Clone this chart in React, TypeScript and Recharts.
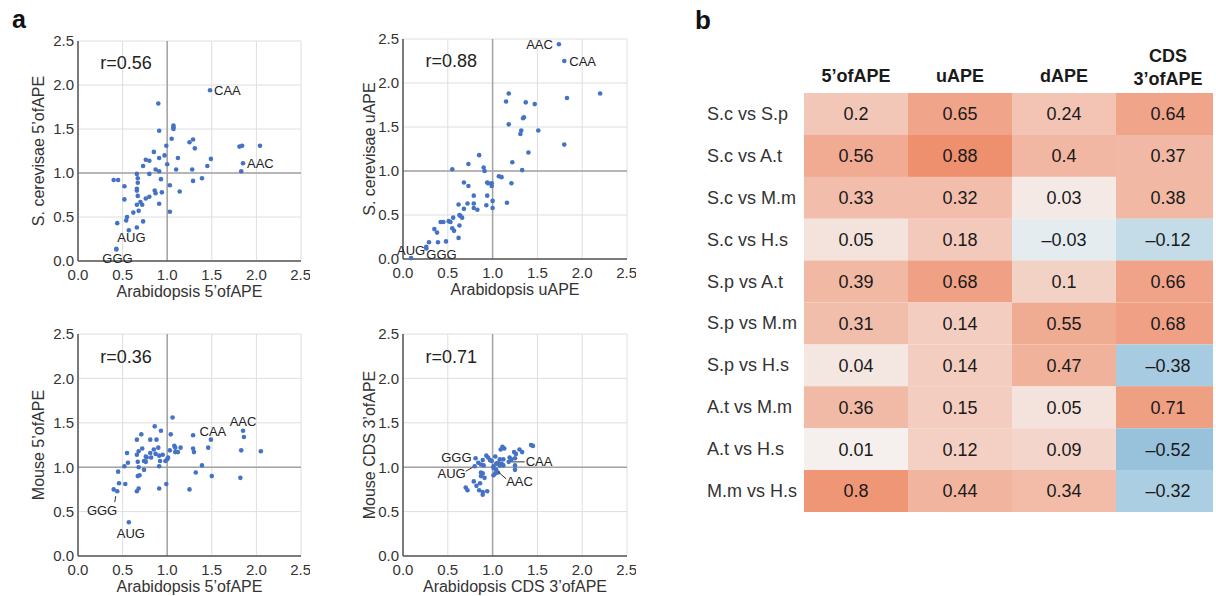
import {
  ScatterChart,
  Scatter,
  XAxis,
  YAxis,
  CartesianGrid,
  ReferenceLine,
  ReferenceDot,
  Label,
  BarChart,
  Bar,
  Cell,
  LabelList,
} from "recharts"

const FONT = "'Liberation Sans', Arial, Helvetica, sans-serif"
const DOT = "#4472c4"
const TEXT = "#333"
const TICKS = [0, 0.5, 1, 1.5, 2, 2.5]

type Pt = [number, number]
type Mark = { codon: string; x: number; y: number }
type Tag = { dx: number; dy: number; anchor: "start" | "middle" | "end"; line?: number[] }

// panel a — points are [Arabidopsis, other organism]
const scVsAt5ofAPE: Pt[] = [
  [0.9, 1.79], [1.07, 1.54], [1.07, 1.52], [1.07, 1.5], [0.91, 1.48], [1.05, 1.39], [1.29, 1.38], [1.25, 1.35],
  [1.31, 1.28], [0.99, 1.31], [0.85, 1.24], [0.97, 1.2], [0.91, 1.17], [1.12, 1.17], [1.49, 1.16], [0.76, 1.15],
  [0.8, 1.14], [1.0, 1.1], [0.73, 1.08], [1.45, 1.08], [0.87, 1.04], [0.91, 1.02], [1.1, 1.04], [1.28, 1.04],
  [0.66, 0.99], [0.8, 0.99], [0.67, 0.94], [0.67, 0.89], [0.93, 0.93], [0.4, 0.92], [0.45, 0.92], [1.39, 0.94],
  [1.29, 0.91], [0.52, 0.85], [1.03, 0.86], [0.66, 0.82], [0.66, 0.8], [0.86, 0.8], [0.87, 0.77], [0.94, 0.78],
  [1.14, 0.79], [0.67, 0.74], [0.8, 0.73], [0.76, 0.71], [0.52, 0.7], [0.7, 0.67], [0.72, 0.64], [0.66, 0.64],
  [0.91, 0.65], [0.62, 0.55], [0.68, 0.57], [1.03, 0.56], [0.55, 0.5], [0.54, 0.46], [0.44, 0.43], [0.73, 0.45],
  [0.57, 0.35], [0.66, 0.38], [1.81, 1.3], [1.84, 1.31], [2.04, 1.31], [1.83, 1.02],
]
const scVsAt5ofAPEMarks: Mark[] = [
  { codon: "CAA", x: 1.48, y: 1.94 },
  { codon: "AAC", x: 1.85, y: 1.11 },
  { codon: "GGG", x: 0.43, y: 0.13 },
  { codon: "AUG", x: 0.43, y: 0.14 },
]

const scVsAtUAPE: Pt[] = [
  [2.2, 1.88], [1.18, 1.88], [1.15, 1.79], [1.37, 1.78], [1.47, 1.76], [1.83, 1.83], [1.35, 1.61], [1.34, 1.6],
  [1.18, 1.53], [1.32, 1.46], [1.31, 1.42], [1.51, 1.46], [1.8, 1.3], [1.4, 1.21], [0.85, 1.18], [1.22, 1.1],
  [0.73, 1.08], [0.9, 1.04], [0.91, 1.0], [1.33, 1.01], [0.55, 1.02], [1.07, 0.94], [1.1, 0.93], [0.68, 0.87],
  [0.73, 0.83], [0.94, 0.87], [0.95, 0.86], [0.99, 0.86], [0.99, 0.83], [1.21, 0.86], [0.79, 0.72], [0.94, 0.72],
  [1.0, 0.66], [0.62, 0.62], [0.72, 0.63], [0.79, 0.63], [1.16, 0.64], [0.93, 0.61], [0.79, 0.58], [0.83, 0.56],
  [1.0, 0.58], [0.68, 0.57], [0.63, 0.5], [0.64, 0.49], [0.66, 0.47], [0.56, 0.47], [0.42, 0.42], [0.45, 0.42],
  [0.51, 0.43], [0.53, 0.42], [0.63, 0.38], [0.55, 0.35], [0.57, 0.32], [0.35, 0.34], [0.38, 0.3], [0.48, 0.2],
  [0.62, 0.24], [0.39, 0.19], [0.29, 0.19], [0.26, 0.12],
]
const scVsAtUAPEMarks: Mark[] = [
  { codon: "AAC", x: 1.74, y: 2.44 },
  { codon: "CAA", x: 1.8, y: 2.25 },
  { codon: "AUG", x: 0.09, y: 0.01 },
  { codon: "GGG", x: 0.26, y: 0.14 },
]

const mmVsAt5ofAPE: Pt[] = [
  [1.06, 1.56], [0.86, 1.46], [0.93, 1.41], [0.71, 1.37], [1.04, 1.37], [1.29, 1.36], [0.66, 1.31], [0.81, 1.31],
  [0.88, 1.31], [1.86, 1.34], [0.72, 1.21], [0.9, 1.22], [0.85, 1.2], [0.68, 1.18], [0.66, 1.14], [0.55, 1.16],
  [1.08, 1.24], [1.09, 1.22], [1.09, 1.17], [1.03, 1.19], [1.15, 1.22], [1.12, 1.17], [1.29, 1.21], [1.3, 1.17],
  [1.46, 1.22], [1.83, 1.19], [2.05, 1.18], [0.81, 1.16], [0.87, 1.15], [0.91, 1.13], [0.95, 1.14], [0.77, 1.11],
  [0.76, 1.12], [0.82, 1.11], [0.67, 1.06], [0.74, 1.07], [0.76, 1.06], [0.92, 1.07], [1.0, 1.09], [1.01, 1.11],
  [0.98, 1.07], [0.56, 1.05], [0.52, 1.01], [0.68, 1.0], [0.91, 1.01], [1.39, 1.02], [0.74, 0.97], [0.45, 0.95],
  [1.32, 0.94], [1.5, 0.9], [0.67, 0.9], [0.69, 0.91], [0.99, 0.81], [0.53, 0.81], [0.46, 0.82], [1.82, 0.88],
  [0.4, 0.75], [0.68, 0.76], [0.66, 0.73], [0.91, 0.76], [1.25, 0.75],
]
const mmVsAt5ofAPEMarks: Mark[] = [
  { codon: "AAC", x: 1.85, y: 1.41 },
  { codon: "CAA", x: 1.49, y: 1.31 },
  { codon: "GGG", x: 0.44, y: 0.73 },
  { codon: "AUG", x: 0.57, y: 0.38 },
]

const mmVsAtCds3ofAPE: Pt[] = [
  [1.43, 1.25], [1.45, 1.24], [1.11, 1.23], [1.13, 1.21], [1.09, 1.2], [1.3, 1.2], [1.33, 1.17], [1.24, 1.17],
  [1.26, 1.15], [0.93, 1.13], [0.95, 1.11], [1.03, 1.12], [1.19, 1.11], [1.21, 1.09], [1.12, 1.09], [0.97, 1.08],
  [0.99, 1.07], [1.08, 1.09], [1.25, 1.1], [0.89, 1.08], [0.84, 1.05], [1.04, 1.04], [1.06, 1.05], [1.08, 1.02],
  [1.1, 1.04], [0.87, 1.03], [0.9, 1.02], [1.01, 1.01], [1.01, 0.99], [1.12, 1.02], [1.25, 1.02], [1.25, 0.97],
  [0.87, 0.94], [0.89, 0.93], [1.03, 0.93], [1.06, 0.94], [1.01, 0.91], [0.87, 0.9], [0.91, 0.88], [0.79, 0.84],
  [0.86, 0.82], [0.82, 0.79], [0.85, 0.74], [0.7, 0.77], [0.72, 0.74], [0.89, 0.72], [0.94, 0.73], [0.89, 0.69],
]
const mmVsAtCds3ofAPEMarks: Mark[] = [
  { codon: "GGG", x: 0.81, y: 1.1 },
  { codon: "AUG", x: 0.8, y: 1.01 },
  { codon: "CAA", x: 1.18, y: 1.06 },
  { codon: "AAC", x: 1.04, y: 0.97 },
]

// panel b
const pairs = [
  "S.c vs S.p", "S.c vs A.t", "S.c vs M.m", "S.c vs H.s", "S.p vs A.t",
  "S.p vs M.m", "S.p vs H.s", "A.t vs M.m", "A.t vs H.s", "M.m vs H.s",
]
const regions = ["5’ofAPE", "uAPE", "dAPE", "CDS 3’ofAPE"]
const corr5ofAPE = [0.2, 0.56, 0.33, 0.05, 0.39, 0.31, 0.04, 0.36, 0.01, 0.8]
const corrUAPE = [0.65, 0.88, 0.32, 0.18, 0.68, 0.14, 0.14, 0.15, 0.12, 0.44]
const corrDAPE = [0.24, 0.4, 0.03, -0.03, 0.1, 0.55, 0.47, 0.05, 0.09, 0.34]
const corrCds3ofAPE = [0.64, 0.37, 0.38, -0.12, 0.66, 0.68, -0.38, 0.71, -0.52, -0.32]

// label placement, per panel
const tagsA1: Record<string, Tag> = {
  CAA: { dx: 4, dy: 0, anchor: "start" },
  AAC: { dx: 4, dy: 0, anchor: "start" },
  AUG: { dx: 1, dy: -11, anchor: "start" },
  GGG: { dx: -14, dy: 9, anchor: "start" },
}
const tagsA2: Record<string, Tag> = {
  AAC: { dx: -6, dy: 0, anchor: "end" },
  CAA: { dx: 5, dy: 0, anchor: "start" },
  AUG: { dx: -14, dy: -8, anchor: "start" },
  GGG: { dx: 0, dy: 8, anchor: "start" },
}
const tagsA3: Record<string, Tag> = {
  AAC: { dx: 0, dy: -9, anchor: "middle" },
  CAA: { dx: 2, dy: -8, anchor: "middle" },
  GGG: { dx: 0, dy: 19, anchor: "end", line: [-1.5, 5, -2.5, 11] },
  AUG: { dx: 2, dy: 11, anchor: "middle" },
}
const tagsA4: Record<string, Tag> = {
  GGG: { dx: -4, dy: -1, anchor: "end" },
  AUG: { dx: -9, dy: 7, anchor: "end", line: [-9, 5, -2, 1] },
  CAA: { dx: 17, dy: 0, anchor: "start", line: [2, 0, 16, 0] },
  AAC: { dx: 10, dy: 12, anchor: "start", line: [2, 2, 10, 9] },
}

const COLOR_STOPS: [number, number[]][] = [
  [-0.6, [140, 188, 216]],
  [-0.52, [152, 194, 220]],
  [-0.38, [167, 203, 225]],
  [-0.32, [172, 206, 226]],
  [-0.12, [196, 219, 232]],
  [-0.03, [228, 236, 240]],
  [0, [245, 243, 242]],
  [0.05, [244, 227, 221]],
  [0.1, [243, 210, 198]],
  [0.2, [243, 199, 184]],
  [0.4, [241, 183, 162]],
  [0.65, [240, 164, 137]],
  [0.88, [238, 143, 110]],
  [1, [236, 132, 98]],
]

function heatColor(v: number) {
  for (let i = 1; i < COLOR_STOPS.length; i++) {
    const [v1, c1] = COLOR_STOPS[i]
    const [v0, c0] = COLOR_STOPS[i - 1]
    if (v <= v1) {
      const t = (v - v0) / (v1 - v0)
      const c = c0.map((a, k) => Math.round(a + (c1[k] - a) * t))
      return `rgb(${c[0]},${c[1]},${c[2]})`
    }
  }
  return "rgb(236,132,98)"
}

const fmtCorr = (v: any) => (Number(v) < 0 ? `–${Math.abs(Number(v))}` : String(v))

const dotShape = (p: any) => <circle cx={p.cx} cy={p.cy} r={2.3} fill={DOT} />

function markShape(tags: Record<string, Tag>) {
  return (p: any) => {
    const t = tags[p.payload.codon]
    return (
      <g>
        <circle cx={p.cx} cy={p.cy} r={2.3} fill={DOT} />
        {t.line && (
          <line
            x1={p.cx + t.line[0]}
            y1={p.cy + t.line[1]}
            x2={p.cx + t.line[2]}
            y2={p.cy + t.line[3]}
            stroke="#333"
            strokeWidth={1}
          />
        )}
        <text
          x={p.cx + t.dx}
          y={p.cy + t.dy}
          textAnchor={t.anchor}
          dominantBaseline="central"
          fontSize={13}
          fill="#222"
        >
          {p.payload.codon}
        </text>
      </g>
    )
  }
}

interface CodonScatterProps {
  left: number
  top: number
  plotTop: number
  plotHeight: number
  yAxisWidth: number
  points: Pt[]
  marks: Mark[]
  tags: Record<string, Tag>
  r: string
  xTitle: string
  yTitle: string
  yTitleX: number
}

function CodonScatter({ left, top, plotTop, plotHeight, yAxisWidth, points, marks, tags, r, xTitle, yTitle, yTitleX }: CodonScatterProps) {
  const data = points.map(([x, y]) => ({ x, y }))
  const axisLine = { stroke: "#555", strokeWidth: 1.5 }
  return (
    <div style={{ position: "absolute", left, top }}>
      <ScatterChart width={310} height={plotTop + plotHeight + 40} margin={{ top: plotTop, right: 9, bottom: 0, left: 0 }}>
        <CartesianGrid stroke="#dedede" />
        <XAxis
          type="number"
          dataKey="x"
          domain={[0, 2.5]}
          ticks={TICKS}
          tickFormatter={(v) => Number(v).toFixed(1)}
          height={40}
          tickSize={0}
          tickMargin={8}
          axisLine={axisLine}
          tick={{ fontSize: 15, fill: TEXT }}
        >
          <Label value={xTitle} position="insideBottom" offset={4} style={{ fontSize: 16, fill: TEXT }} />
        </XAxis>
        <YAxis
          type="number"
          dataKey="y"
          domain={[0, 2.5]}
          ticks={TICKS}
          tickFormatter={(v) => Number(v).toFixed(1)}
          width={yAxisWidth}
          tickSize={0}
          tickMargin={4}
          axisLine={axisLine}
          tick={{ fontSize: 15, fill: TEXT }}
        >
          <Label
            value={yTitle}
            angle={-90}
            position="insideLeft"
            offset={yTitleX}
            style={{ fontSize: 16, fill: TEXT, textAnchor: "middle" }}
          />
        </YAxis>
        <ReferenceLine x={1} stroke="#a3a3a3" strokeWidth={1.5} />
        <ReferenceLine y={1} stroke="#a3a3a3" strokeWidth={1.5} />
        <ReferenceDot
          x={0.25}
          y={2.25}
          r={0}
          fill="none"
          stroke="none"
          label={{ value: r, position: "right", offset: 0, style: { fontSize: 18, fill: "#222" } }}
        />
        <Scatter data={data} shape={dotShape} isAnimationActive={false} />
        <Scatter data={marks} shape={markShape(tags)} isAnimationActive={false} />
      </ScatterChart>
    </div>
  )
}

function HeaderTick(p: any) {
  const lines = regions[Math.floor(p.payload.value)].split(" ")
  const baselines = lines.length === 1 ? [82] : [62, 85]
  return (
    <text textAnchor="middle" fontSize={18} fontWeight="bold" fill="#1a1a1a">
      {lines.map((l, i) => (
        <tspan key={l} x={p.x} y={baselines[i]}>
          {l}
        </tspan>
      ))}
    </text>
  )
}

function RowTick(p: any) {
  return (
    <text x={0} y={p.y} dominantBaseline="central" fontSize={18} fill={TEXT}>
      {p.payload.value}
    </text>
  )
}

function CorrelationHeatmap() {
  const series = [corr5ofAPE, corrUAPE, corrDAPE, corrCds3ofAPE]
  const rows = pairs.map((pair, i) => ({
    pair,
    w0: 1, w1: 1, w2: 1, w3: 1,
    v0: corr5ofAPE[i], v1: corrUAPE[i], v2: corrDAPE[i], v3: corrCds3ofAPE[i],
  }))
  return (
    <div style={{ position: "absolute", left: 707, top: 0, width: 506, height: 596, overflow: "hidden" }}>
      <BarChart layout="vertical" width={513} height={512} data={rows} margin={{ top: 0, right: 0, bottom: 0, left: 0 }} barCategoryGap={0}>
        <XAxis
          type="number"
          orientation="top"
          domain={[0, regions.length]}
          ticks={regions.map((_, i) => i + 0.5)}
          interval={0}
          height={93}
          axisLine={false}
          tickLine={false}
          tickSize={0}
          tickMargin={0}
          tick={HeaderTick}
        />
        <YAxis
          type="category"
          dataKey="pair"
          width={97}
          axisLine={false}
          tickLine={false}
          tickSize={0}
          tickMargin={0}
          interval={0}
          tick={RowTick}
        />
        {series.map((vals, k) => (
          <Bar key={k} dataKey={`w${k}`} stackId="heat" isAnimationActive={false}>
            {vals.map((v, i) => (
              <Cell key={i} fill={heatColor(v)} />
            ))}
            <LabelList dataKey={`v${k}`} position="center" formatter={fmtCorr} fill="#1a1a1a" fontSize={18} />
          </Bar>
        ))}
      </BarChart>
    </div>
  )
}

export default function App() {
  return (
    <div style={{ position: "absolute", left: 0, top: 0, width: 1216, height: 596, background: "#fff", fontFamily: FONT, overflow: "hidden" }}>
      <svg width={1216} height={40} style={{ position: "absolute", left: 0, top: 0 }}>
        <text x={12} y={28} fontSize={25} fontWeight="bold" fill="#111">a</text>
        <text x={695} y={29} fontSize={26} fontWeight="bold" fill="#111">b</text>
      </svg>
      <CodonScatter
        left={0} top={0} plotTop={41} plotHeight={220} yAxisWidth={78}
        points={scVsAt5ofAPE} marks={scVsAt5ofAPEMarks} tags={tagsA1} r="r=0.56"
        xTitle="Arabidopsis 5’ofAPE" yTitle="S. cerevisae 5’ofAPE" yTitleX={38.5}
      />
      <CodonScatter
        left={326} top={0} plotTop={39} plotHeight={220} yAxisWidth={77}
        points={scVsAtUAPE} marks={scVsAtUAPEMarks} tags={tagsA2} r="r=0.88"
        xTitle="Arabidopsis uAPE" yTitle="S. cerevisae uAPE" yTitleX={43}
      />
      <CodonScatter
        left={0} top={294} plotTop={40} plotHeight={222} yAxisWidth={78}
        points={mmVsAt5ofAPE} marks={mmVsAt5ofAPEMarks} tags={tagsA3} r="r=0.36"
        xTitle="Arabidopsis 5’ofAPE" yTitle="Mouse 5’ofAPE" yTitleX={38.5}
      />
      <CodonScatter
        left={326} top={294} plotTop={40} plotHeight={222} yAxisWidth={77}
        points={mmVsAtCds3ofAPE} marks={mmVsAtCds3ofAPEMarks} tags={tagsA4} r="r=0.71"
        xTitle="Arabidopsis CDS 3’ofAPE" yTitle="Mouse CDS 3’ofAPE" yTitleX={43}
      />
      <CorrelationHeatmap />
    </div>
  )
}
